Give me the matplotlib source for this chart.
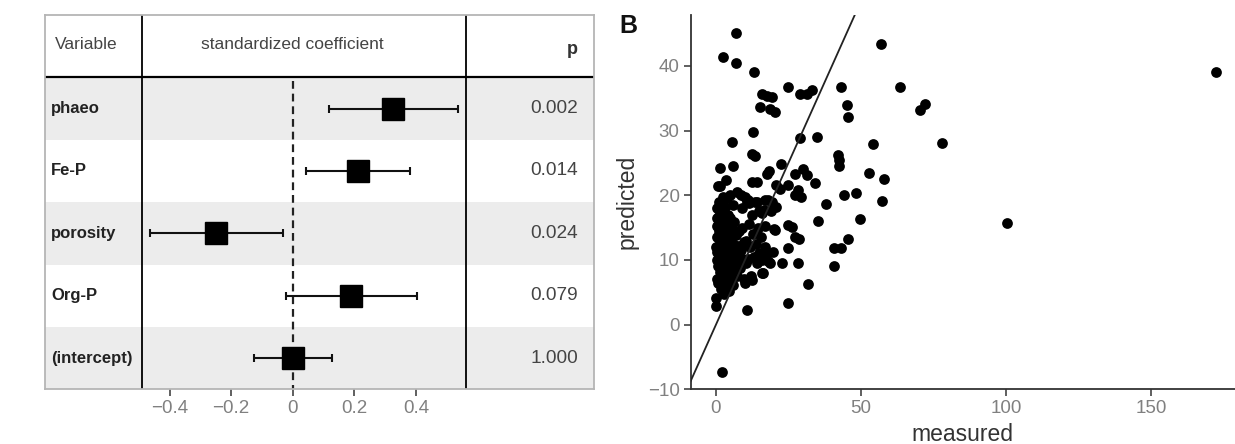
import numpy as np
import matplotlib
matplotlib.use("Agg")
import matplotlib.pyplot as plt

plt.rcParams["font.family"] = ["Liberation Sans", "DejaVu Sans"]

# panel A: standardized coefficients
variables = ["phaeo", "Fe-P", "porosity", "Org-P", "(intercept)"]
coef = [0.326, 0.211, -0.249, 0.189, 0.0]
ci_low = [0.119, 0.043, -0.464, -0.022, -0.126]
ci_high = [0.536, 0.381, -0.033, 0.403, 0.127]
p_values = ["0.002", "0.014", "0.024", "0.079", "1.000"]
coef_ticks = [-0.4, -0.2, 0, 0.2, 0.4]
coef_ticklabels = ["\u22120.4", "\u22120.2", "0", "0.2", "0.4"]

# panel B: measured vs predicted
measured = [
    6.9, 2.3, 6.8, 13.1, 56.9, 25.0, 43.1, 63.6, 15.8, 17.5, 19.2, 15.2, 18.7, 20.4,
    29.0, 31.3, 33.1, 45.2, 45.4, 70.3, 72.0, 12.9, 5.6, 29.0, 35.0, 54.0, 77.8, 12.3,
    13.5, 42.0, 42.3, 42.4, 1.4, 5.8, 22.4, 18.4, 17.5, 30.0, 27.1, 31.3, 52.8, 57.8,
    34.0, 12.3, 14.1, 3.5, 0.8, 20.7, 22.1, 24.8, 28.2, 29.3, 27.4, 7.1, 8.6, 10.0,
    2.5, 48.3, 44.0, 37.9, 57.3, 14.1, 16.9, 19.2, 20.7, 10.6, 15.8, 16.4, 35.3, 49.8,
    20.4, 25.0, 26.2, 27.1, 28.6, 45.5, 40.6, 43.1, 24.9, 22.7, 28.2, 40.8, 31.7, 24.9,
    10.8, 2.1, 0.0, 0.0, 100.2, 172.4, 3.1, 11.1, 18.0, 18.0, 15.8, 12.3,
    0.2, 0.5, 0.3, 0.1, 0.4, 0.2, 0.6, 0.3, 0.8, 1.0, 1.2, 1.5, 1.3, 1.1, 1.6, 1.4,
    1.9, 1.7, 2.0, 2.3, 2.1, 2.5, 2.4, 2.2, 2.8, 2.6, 3.0, 3.2, 3.1, 3.4, 3.0, 3.5,
    3.3, 3.7, 4.0, 4.2, 4.1, 4.4, 4.0, 4.5, 4.3, 4.7, 4.6, 5.0, 5.2, 5.4, 5.1, 5.5,
    5.8, 5.6, 6.0, 6.2, 6.5, 6.3, 6.8, 7.0, 7.2, 7.5, 7.8, 8.0, 8.2, 8.5, 9.0, 9.2,
    9.5, 9.8, 10.0, 10.2, 10.5, 11.0, 11.5, 11.8, 12.0, 12.5, 12.8, 13.0, 13.5, 13.8,
    14.0, 14.5, 14.8, 15.0, 15.5, 16.0, 16.2, 16.8, 17.0, 17.5, 18.5, 19.0, 19.5, 20.0,
    1.5, 11.5, 9.0, 6.0, 5.0, 3.8, 1.2, 0.5, 2.8,
]
predicted = [
    45.1, 41.3, 40.5, 39.0, 43.3, 36.8, 36.8, 36.8, 35.7, 35.4, 35.2, 33.7, 33.3, 32.9,
    35.6, 35.6, 36.2, 33.9, 32.1, 33.1, 34.1, 29.8, 28.2, 28.8, 29.0, 27.9, 28.1, 26.4,
    26.0, 26.2, 25.4, 24.5, 24.2, 24.5, 24.9, 23.8, 23.3, 24.1, 23.3, 23.2, 23.4, 22.5,
    21.9, 22.1, 22.1, 22.3, 21.4, 21.6, 21.0, 21.6, 20.8, 19.8, 20.0, 20.5, 20.0, 19.7,
    19.8, 20.4, 20.1, 18.7, 19.1, 19.0, 19.2, 19.0, 18.2, 19.0, 17.2, 17.7, 16.0, 16.4,
    14.7, 15.4, 15.1, 13.5, 13.2, 13.3, 11.8, 11.8, 11.9, 9.5, 9.5, 9.1, 6.3, 3.3,
    2.3, -7.3, 4.1, 2.9, 15.7, 39.0, 18.2, 19.3, 19.3, 9.8, 8.0, 6.9,
    16.5, 15.3, 13.5, 12.0, 11.2, 10.0, 9.0, 7.0, 6.5, 14.5, 16.8, 13.0, 11.8, 10.5, 9.5, 8.2,
    7.2, 5.5, 15.8, 17.5, 12.5, 11.0, 9.8, 8.8, 6.2, 4.8, 16.2, 14.8, 13.6, 12.2, 10.8, 9.2,
    7.8, 5.8, 17.0, 15.5, 14.2, 12.8, 11.5, 10.2, 8.5, 7.0, 5.2, 16.5, 13.5, 11.8, 9.8, 8.0,
    6.2, 14.8, 12.5, 10.5, 9.0, 15.8, 13.8, 11.2, 7.5, 12.2, 10.0, 14.5, 8.8, 11.5, 15.0, 10.2,
    7.0, 12.8, 6.5, 9.5, 13.0, 10.2, 15.5, 12.0, 7.5, 17.0, 14.0, 10.5, 19.0, 12.5,
    9.5, 15.0, 11.0, 17.5, 13.5, 10.0, 8.0, 15.2, 12.0, 11.0, 9.5, 17.5, 11.2, 14.8,
    21.4, 18.8, 18.0, 18.5, 20.0, 19.5, 19.0, 18.0, 18.2,
]
measured_ticks = [0, 50, 100, 150]
predicted_ticks = [-10, 0, 10, 20, 30, 40]

tick_grey = "#808080"
text_dark = "#333333"

fig = plt.figure(figsize=(12.35, 4.44), dpi=100)

# ---- panel A ----
ax1 = fig.add_axes([45 / 1235, 54.7 / 444, 549.3 / 1235, 374.3 / 444])
ax1.set_xlim(-0.805, 0.980)
ax1.set_ylim(4.5, -1.5)

rows = np.arange(len(variables))
for i in rows[::2]:
    ax1.axhspan(i - 0.5, i + 0.5, color="#ececec", zorder=0, lw=0)

col_left, col_right = -0.4907, 0.5622
ax1.axvline(col_left, color="black", lw=1.3, zorder=2)
ax1.axvline(col_right, color="black", lw=1.3, zorder=2)
ax1.axhline(-0.5, color="black", lw=1.6, zorder=2)
ax1.vlines(0, -0.45, 4.5, colors="#222222", lw=1.6, linestyles=(0, (3.5, 2.2)), zorder=2)

coef = np.array(coef)
xerr = [coef - np.array(ci_low), np.array(ci_high) - coef]
ax1.errorbar(coef, rows, xerr=xerr, fmt="s", ms=15.5, color="black",
             ecolor="#111111", elinewidth=1.5, capsize=3, capthick=1.5, zorder=3)

for sp in ax1.spines.values():
    sp.set_color("#b5b5b5")
    sp.set_linewidth(1.3)

ax1.text(-0.773, -1.03, "Variable", fontsize=12.5, color="#444444", ha="left", va="center")
ax1.text(0.0, -1.03, "standardized coefficient", fontsize=12.5, color="#444444",
         ha="center", va="center")
ax1.text(0.927, -0.95, "p", fontsize=13, weight="bold", color=text_dark, ha="right", va="center")
for i, (name, pv) in enumerate(zip(variables, p_values)):
    ax1.text(-0.785, i, name, fontsize=12.0, weight="bold", color="#222222",
             ha="left", va="center")
    ax1.text(0.927, i, pv, fontsize=13.7, color="#444444", ha="right", va="center")

ax1.set_yticks([])
ax1.set_xticks(coef_ticks)
ax1.set_xticklabels(coef_ticklabels)
ax1.tick_params(axis="x", direction="out", length=5, width=1.2, color="#444444",
                labelcolor=tick_grey, labelsize=13.5, pad=3)

# ---- panel B ----
ax2 = fig.add_axes([690.7 / 1235, 54.7 / 444, 544.3 / 1235, 374.3 / 444])
ax2.scatter(measured, predicted, s=60, color="black", linewidths=0, zorder=2)
ax2.axline((0, 0), slope=1, color="#222222", lw=1.3, zorder=3)
ax2.set_xlim(-8.72, 179)
ax2.set_ylim(-10, 47.86)
ax2.set_xticks(measured_ticks)
ax2.set_yticks(predicted_ticks)
for side in ("top", "right"):
    ax2.spines[side].set_visible(False)
for side in ("left", "bottom"):
    ax2.spines[side].set_color("#333333")
    ax2.spines[side].set_linewidth(1.3)
ax2.tick_params(direction="out", length=5, width=1.2, color="#444444",
                labelcolor=tick_grey, labelsize=13.5, pad=3)
ax2.set_xlabel("measured", fontsize=16.5, color=text_dark)
ax2.set_ylabel("predicted", fontsize=16.5, color=text_dark)
ax2.xaxis.set_label_coords(0.5, -0.09)
ax2.yaxis.set_label_coords(-0.095, 0.5)

fig.text(628 / 1235, 1 - 26 / 444, "B", fontsize=18, weight="bold", color="#111111",
         ha="center", va="center")

fig.savefig("out.png", dpi=100)
